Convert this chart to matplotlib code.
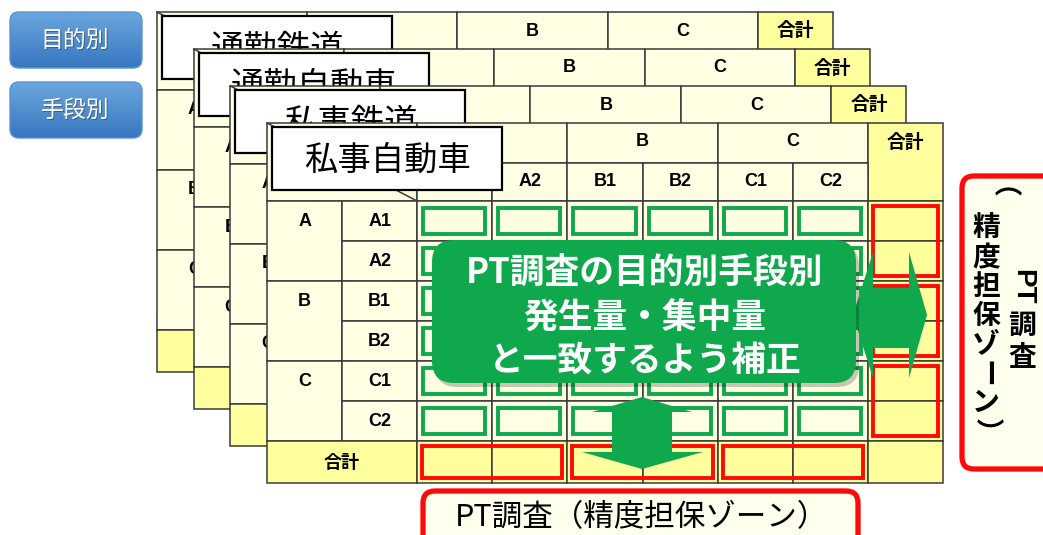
import matplotlib
matplotlib.use("Agg")
import matplotlib.pyplot as plt
from matplotlib.patches import Rectangle, FancyBboxPatch, Polygon
import numpy as np

# ---------------- data ----------------
table_titles = ["通勤鉄道", "通勤自動車", "私事鉄道", "私事自動車"]
group_labels = ["A", "B", "C"]
sub_labels = ["A1", "A2", "B1", "B2", "C1", "C2"]
total_label = "合計"
button_labels = ["目的別", "手段別"]
note_lines = ["PT調査の目的別手段別", "発生量・集中量", "と一致するよう補正"]
bottom_label = "PT調査（精度担保ゾーン）"
side_col_right = ["PT", "調", "査"]
side_col_left = ["（", "精", "度", "担", "保", "ゾ", "ー", "ン", "）"]

# ---------------- styles ----------------
CREAM = "#FFFFE3"
YELLOW = "#FFFF9E"
LINE = "#3A3A3A"
GREEN = "#0FA84C"
RED = "#FF0A0A"
LAT = ["Liberation Sans", "Noto Sans CJK JP"]
JP = ["Noto Sans CJK JP", "DejaVu Sans"]

W, H = 1043, 535
fig = plt.figure(figsize=(W / 100, H / 100), dpi=100)
ax = fig.add_axes([0, 0, 1, 1])
ax.set_xlim(0, W)
ax.set_ylim(H, 0)
ax.axis("off")

colx = [0, 75, 150, 225, 300, 376, 451, 526, 601, 676]
rowy = [0, 40, 78, 118, 158, 198, 238, 278, 318, 360]
LW = 1.1
STEP_X, STEP_Y = 36.7, 37


def cell(x, y, w, h, fc, z):
    ax.add_patch(Rectangle((x, y), w, h, facecolor=fc, edgecolor=LINE, lw=LW, zorder=z))


def draw_table(ox, oy, title, zb, front):
    zc, zt = zb + 1, zb + 3

    def txt(x, y, s, size=13, fam=LAT):
        # skip labels that are completely covered by the next table or the title box
        if not front and (x - 7 > ox + STEP_X and y - 8 > oy + STEP_Y):
            return
        if 5 < x - ox < 235 and y - oy < 67:
            return
        ax.text(x, y, s, fontsize=size, family=fam, weight="bold", ha="center",
                va="center", zorder=zt)

    # top-left diagonal cell
    cell(ox, oy, 150, 78, CREAM, zc)
    ax.plot([ox, ox + 150], [oy, oy + 78], color=LINE, lw=LW, zorder=zb + 2)
    # header row 1
    for i, lab in enumerate(group_labels):
        x0, x1 = colx[2 + 2 * i], colx[4 + 2 * i]
        cell(ox + x0, oy, x1 - x0, 40, CREAM, zc)
        txt(ox + (x0 + x1) / 2, oy + 19, lab)
    cell(ox + colx[8], oy, colx[9] - colx[8], 78, YELLOW, zc)
    txt(ox + (colx[8] + colx[9]) / 2, oy + 19, total_label, size=13.5, fam=JP)
    # header row 2
    for i, lab in enumerate(sub_labels):
        x0, x1 = colx[2 + i], colx[3 + i]
        cell(ox + x0, oy + 40, x1 - x0, 38, CREAM, zc)
        txt(ox + (x0 + x1) / 2, oy + 59, lab)
    # body
    for g, lab in enumerate(group_labels):
        y0 = rowy[2 + 2 * g]
        cell(ox, oy + y0, 75, 80, CREAM, zc)
        txt(ox + 37.5, oy + y0 + 20, lab)
    for r, lab in enumerate(sub_labels):
        y0, y1 = rowy[2 + r], rowy[3 + r]
        cell(ox + 75, oy + y0, 75, y1 - y0, CREAM, zc)
        txt(ox + 112.5, oy + (y0 + y1) / 2, lab)
        for c in range(6):
            x0, x1 = colx[2 + c], colx[3 + c]
            cell(ox + x0, oy + y0, x1 - x0, y1 - y0, CREAM, zc)
        cell(ox + colx[8], oy + y0, colx[9] - colx[8], y1 - y0, YELLOW, zc)
    # total row
    y0, y1 = rowy[8], rowy[9]
    cell(ox, oy + y0, 150, y1 - y0, YELLOW, zc)
    txt(ox + 75, oy + (y0 + y1) / 2, total_label, size=13, fam=JP)
    for c in range(7):
        x0, x1 = colx[2 + c], colx[3 + c]
        cell(ox + x0, oy + y0, x1 - x0, y1 - y0, YELLOW, zc)
    # title box
    ax.add_patch(Rectangle((ox + 5, oy + 4), 230, 63, facecolor="white", edgecolor="black",
                           lw=1.6, zorder=zb + 4))
    ax.text(ox + 120, oy + 37, title, fontsize=24, family=JP, ha="center", va="center",
            zorder=zb + 5)


origins = [(157 + STEP_X * i, 12 + STEP_Y * i) for i in range(4)]
for i, (title, (ox, oy)) in enumerate(zip(table_titles, origins)):
    draw_table(ox, oy, title, 10 * (i + 1), i == len(table_titles) - 1)

FX, FY = origins[-1]

# green rectangles in data cells
for r in range(6):
    for c in range(6):
        x0, x1 = FX + colx[2 + c], FX + colx[3 + c]
        y0, y1 = FY + rowy[2 + r], FY + rowy[3 + r]
        ax.add_patch(Rectangle((x0 + 6, y0 + 7), (x1 - x0) - 13, (y1 - y0) - 14,
                               facecolor="none", edgecolor=GREEN, lw=2.8, zorder=60))
# red rectangles in total column
for g in range(3):
    x0, x1 = FX + colx[8], FX + colx[9]
    y0, y1 = FY + rowy[2 + 2 * g], FY + rowy[4 + 2 * g]
    ax.add_patch(Rectangle((x0 + 5, y0 + 5), (x1 - x0) - 10, (y1 - y0) - 10,
                           facecolor="none", edgecolor=RED, lw=2.8, zorder=61))
# red rectangles in total row
for g in range(3):
    x0, x1 = FX + colx[2 + 2 * g], FX + colx[4 + 2 * g]
    y0, y1 = FY + rowy[8], FY + rowy[9]
    ax.add_patch(Rectangle((x0 + 5, y0 + 5), (x1 - x0) - 10, (y1 - y0) - 10,
                           facecolor="none", edgecolor=RED, lw=2.8, zorder=61))

# arrows
right_arrow = [(853, 315), (873, 252), (873, 288), (909, 288), (909, 252), (927, 315),
               (909, 378), (909, 348), (873, 348), (873, 378)]
ax.add_patch(Polygon(right_arrow, closed=True, facecolor=GREEN, edgecolor="none", zorder=65))
down_arrow = [(642, 397), (692, 412), (672, 412), (672, 452), (703, 452), (642, 469),
              (582, 452), (612, 452), (612, 412), (592, 412)]
ax.add_patch(Polygon(down_arrow, closed=True, facecolor=GREEN, edgecolor="none", zorder=65))

# big green note box
ax.add_patch(FancyBboxPatch((435, 244), 424, 143, boxstyle="round,pad=0,rounding_size=22",
                            facecolor="black", alpha=0.22, edgecolor="none", zorder=66))
ax.add_patch(FancyBboxPatch((432, 240), 424, 143, boxstyle="round,pad=0,rounding_size=22",
                            facecolor=GREEN, edgecolor="none", zorder=67))
for s, y in zip(note_lines, [272, 318, 360]):
    ax.text(645, y, s, fontsize=25, family=JP, weight="bold", color="white",
            ha="center", va="center", zorder=68)

# bottom label box
ax.add_patch(FancyBboxPatch((423, 491), 435, 70, boxstyle="round,pad=0,rounding_size=12",
                            facecolor="#FFFFEE", edgecolor=RED, lw=3.8, zorder=70))
ax.text(641, 518, bottom_label, fontsize=22, family=JP, ha="center", va="center", zorder=71)

# right vertical label box
ax.add_patch(FancyBboxPatch((962, 176), 110, 293, boxstyle="round,pad=0,rounding_size=12",
                            facecolor="#FFFFEE", edgecolor=RED, lw=3.8, zorder=70))
ax.text(1022, 287, side_col_right[0], fontsize=20, family=LAT, weight="bold",
        rotation=-90, ha="center", va="center", zorder=71)
for s, y in zip(side_col_right[1:], [326, 358]):
    ax.text(1022, y, s, fontsize=20, family=JP, weight="bold", ha="center", va="center",
            zorder=71)
for k, s in enumerate(side_col_left):
    rot = -90 if s in "（）ー" else 0
    ax.text(986, 200 + 29 * k, s, fontsize=20, family=JP, weight="bold", rotation=rot,
            ha="center", va="center", zorder=71)

# blue buttons
grad = np.linspace(0, 1, 64)[:, None, None]
top_c = np.array(matplotlib.colors.to_rgb("#6AA6DE"))
bot_c = np.array(matplotlib.colors.to_rgb("#3777C0"))
img = np.repeat(top_c * (1 - grad) + bot_c * grad, 2, axis=1)
for lab, (y0, y1) in zip(button_labels, [(12, 68), (82, 138)]):
    p = FancyBboxPatch((10, y0), 132, y1 - y0, boxstyle="round,pad=0,rounding_size=9",
                       facecolor="none", edgecolor="#5B93CF", lw=1.0, zorder=81)
    ax.add_patch(p)
    im = ax.imshow(img, extent=(10, 142, y1, y0), origin="upper", aspect="auto", zorder=80)
    im.set_clip_path(p)
    ax.text(76, (y0 + y1) / 2 + 1, lab, fontsize=16.5, family=JP, color="#333333",
            ha="center", va="center", zorder=82, alpha=0.5)
    ax.text(75, (y0 + y1) / 2, lab, fontsize=16.5, family=JP, color="white",
            ha="center", va="center", zorder=83)

ax.set_xlim(0, W)
ax.set_ylim(H, 0)
fig.savefig("out.png", dpi=100)
